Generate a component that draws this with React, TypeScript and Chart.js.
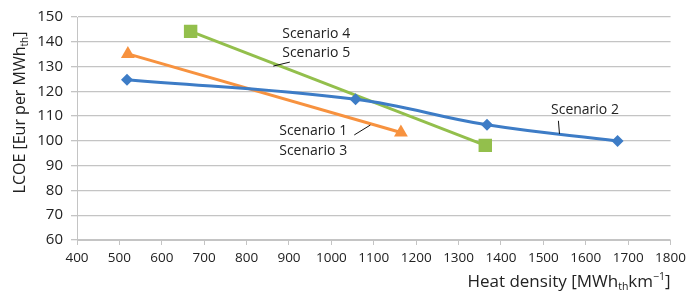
import React, { useEffect, useRef } from "react";
import { Chart, registerables } from "chart.js";

Chart.register(...registerables);

// ---- data ----
const scenario2X = [518, 1057, 1367, 1675];
const scenario2Y = [124.7, 116.8, 106.5, 100];
const scenario13X = [520, 1164];
const scenario13Y = [135.1, 103.4];
const scenario45X = [668, 1363];
const scenario45Y = [144.2, 98.2];

const xTicksMin = 400;
const xTicksMax = 1800;
const xStep = 100;
const yTicksMin = 60;
const yTicksMax = 150;
const yStep = 10;

// annotation labels (data units)
const labelTexts = ["Scenario 4", "Scenario 5", "Scenario 1", "Scenario 3", "Scenario 2"];
const labelX = [884, 884, 877, 877, 1518];
const labelY = [143.1, 135.5, 104.0, 96.0, 112.5];
// pointer lines (data units): [x1, y1, x2, y2]
const pointerLines = [
  [863, 130.2, 902, 131.8],
  [1054, 102.4, 1092, 106.4],
  [1535.5, 108.1, 1538, 102.8],
];

const FONT = "'Open Sans', 'Noto Sans', sans-serif";
const TEXT = "#222222";

type Seg = { t: string; s: number; dy: number };

function drawRich(ctx: CanvasRenderingContext2D, segs: Seg[], x: number, y: number, align: "center" | "right") {
  let total = 0;
  const widths = segs.map((g) => {
    ctx.font = `${g.s}px ${FONT}`;
    const w = ctx.measureText(g.t).width;
    total += w;
    return w;
  });
  let cx = align === "center" ? x - total / 2 : x - total;
  ctx.textAlign = "left";
  ctx.textBaseline = "alphabetic";
  segs.forEach((g, i) => {
    ctx.font = `${g.s}px ${FONT}`;
    ctx.fillText(g.t, cx, y + g.dy);
    cx += widths[i];
  });
}

const overlayPlugin = {
  id: "overlay",
  afterDatasetsDraw(chart: any) {
    const ctx: CanvasRenderingContext2D = chart.ctx;
    const xs = chart.scales.x;
    const ys = chart.scales.y;
    ctx.save();
    ctx.fillStyle = TEXT;
    ctx.font = `14px ${FONT}`;
    ctx.textAlign = "left";
    ctx.textBaseline = "middle";
    labelTexts.forEach((t, i) => {
      ctx.fillText(t, xs.getPixelForValue(labelX[i]), ys.getPixelForValue(labelY[i]));
    });
    ctx.strokeStyle = "#111111";
    ctx.lineWidth = 1;
    pointerLines.forEach((l) => {
      ctx.beginPath();
      ctx.moveTo(xs.getPixelForValue(l[0]), ys.getPixelForValue(l[1]));
      ctx.lineTo(xs.getPixelForValue(l[2]), ys.getPixelForValue(l[3]));
      ctx.stroke();
    });
    ctx.restore();
  },
  afterDraw(chart: any) {
    const ctx: CanvasRenderingContext2D = chart.ctx;
    const ca = chart.chartArea;
    ctx.save();
    ctx.fillStyle = TEXT;
    // x title
    drawRich(
      ctx,
      [
        { t: "Heat density [MWh", s: 17, dy: 0 },
        { t: "th", s: 10.5, dy: 3 },
        { t: "km", s: 17, dy: 0 },
        { t: "\u22121", s: 10.5, dy: -7 },
        { t: "]", s: 17, dy: 0 },
      ],
      ca.right,
      287,
      "right"
    );
    // y title
    ctx.translate(25, (ca.top + ca.bottom) / 2 - 16);
    ctx.rotate(-Math.PI / 2);
    drawRich(
      ctx,
      [
        { t: "LCOE [Eur per MWh", s: 16, dy: 0 },
        { t: "th", s: 10, dy: 3 },
        { t: "]", s: 16, dy: 0 },
      ],
      0,
      0,
      "center"
    );
    ctx.restore();
  },
};

const BLUE = "#3d7cc6";
const ORANGE = "#f7923f";
const GREEN = "#93bf4c";
const GRID = "#c4c4c4";

export default function App() {
  const ref = useRef<HTMLCanvasElement | null>(null);
  useEffect(() => {
    document.body.style.margin = "0";
    if (!ref.current) return;
    const mk = (xa: number[], ya: number[]) => xa.map((x, i) => ({ x, y: ya[i] }));
    const chart = new Chart(ref.current, {
      type: "scatter",
      data: {
        datasets: [
          {
            label: "Scenario 2",
            data: mk(scenario2X, scenario2Y),
            showLine: true,
            borderColor: BLUE,
            backgroundColor: BLUE,
            borderWidth: 3,
            tension: 0.4,
            pointStyle: "rectRot",
            pointRadius: 6,
            pointBorderWidth: 0,
          },
          {
            label: "Scenario 1/3",
            data: mk(scenario13X, scenario13Y),
            showLine: true,
            borderColor: ORANGE,
            backgroundColor: ORANGE,
            borderWidth: 3,
            pointStyle: "triangle",
            pointRadius: 8,
            pointBorderWidth: 0,
          },
          {
            label: "Scenario 4/5",
            data: mk(scenario45X, scenario45Y),
            showLine: true,
            borderColor: GREEN,
            backgroundColor: GREEN,
            borderWidth: 3,
            pointStyle: "rect",
            pointRadius: 9.5,
            pointBorderWidth: 0,
          },
        ],
      },
      options: {
        responsive: false,
        animation: false,
        layout: { padding: { left: 0, right: 15, top: 16, bottom: 0 } },
        plugins: { legend: { display: false }, tooltip: { enabled: false } },
        scales: {
          x: {
            type: "linear",
            min: xTicksMin,
            max: xTicksMax,
            afterFit: (s: any) => {
              s.height = 53;
            },
            ticks: {
              stepSize: xStep,
              padding: 5,
              color: "#222",
              font: { family: FONT, size: 13.5 },
              maxRotation: 0,
              autoSkip: false,
              callback: (v: any) => String(v),
            },
            grid: { drawOnChartArea: false, drawTicks: true, tickLength: 5, color: GRID },
            border: { color: GRID, width: 1 },
          },
          y: {
            type: "linear",
            min: yTicksMin,
            max: yTicksMax,
            afterFit: (s: any) => {
              s.width = 77;
            },
            ticks: {
              stepSize: yStep,
              padding: 8,
              color: "#222",
              font: { family: FONT, size: 15 },
              callback: (v: any) => String(v),
            },
            grid: { color: GRID, lineWidth: 1.3, tickLength: 6 },
            border: { color: GRID, width: 1 },
          },
        },
      },
      plugins: [overlayPlugin],
    });
    return () => chart.destroy();
  }, []);
  return (
    <div style={{ position: "absolute", left: 0, top: 0, width: 691, height: 293 }}>
      <canvas ref={ref} width={691} height={293} />
    </div>
  );
}
